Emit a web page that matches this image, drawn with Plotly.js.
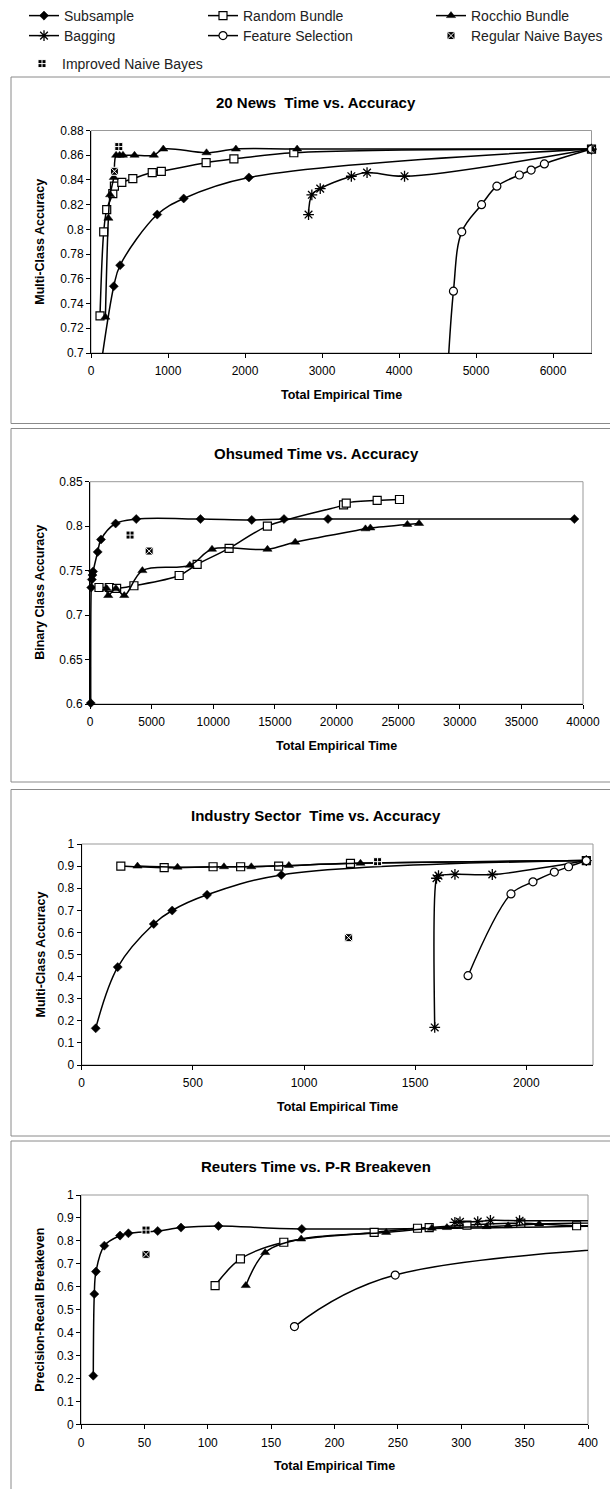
<!DOCTYPE html>
<html>
<head>
<meta charset="utf-8">
<script src="https://cdn.plot.ly/plotly-3.0.1.min.js"></script>
<style>
  html, body { margin: 0; padding: 0; background: #ffffff; }
  #chart { width: 610px; height: 1489px; }
</style>
</head>
<body>
<div id="chart"></div>
<script>
// ---------------- 20 News ----------------
const newsSubTime   = [95, 296, 378, 860, 1204, 2051, 6500];
const newsSubAcc    = [0.675, 0.754, 0.771, 0.812, 0.825, 0.842, 0.865];
const newsRandTime  = [117, 165, 204, 283, 304, 400, 543, 795, 913, 1495, 1856, 2634, 6500];
const newsRandAcc   = [0.730, 0.798, 0.816, 0.829, 0.835, 0.838, 0.841, 0.846, 0.847, 0.854, 0.857, 0.862, 0.865];
const newsRocTime   = [187, 226, 248, 296, 326, 372, 415, 565, 817, 939, 1500, 1882, 2677, 6500];
const newsRocAcc    = [0.729, 0.809, 0.828, 0.842, 0.860, 0.860, 0.860, 0.860, 0.860, 0.865, 0.862, 0.865, 0.865, 0.865];
const newsBagTime   = [2825, 2868, 2977, 3381, 3585, 4072, 6500];
const newsBagAcc    = [0.812, 0.828, 0.833, 0.843, 0.846, 0.843, 0.865];
const newsFeatTime  = [4610, 4707, 4815, 5072, 5271, 5563, 5716, 5888, 6500];
const newsFeatAcc   = [0.660, 0.750, 0.798, 0.820, 0.835, 0.844, 0.848, 0.853, 0.865];
const newsRegTime   = [304];
const newsRegAcc    = [0.847];
const newsImpTime   = [361];
const newsImpAcc    = [0.867];
const newsXTicks    = [0, 1000, 2000, 3000, 4000, 5000, 6000];
const newsYTicks    = [0.7, 0.72, 0.74, 0.76, 0.78, 0.8, 0.82, 0.84, 0.86, 0.88];
const newsYLabels   = ['0.7', '0.72', '0.74', '0.76', '0.78', '0.8', '0.82', '0.84', '0.86', '0.88'];

// ---------------- Ohsumed ----------------
const ohsSubTime    = [60, 100, 150, 200, 250, 623, 891, 2079, 3753, 8964, 13122, 15740, 19306, 39300];
const ohsSubAcc     = [0.601, 0.731, 0.740, 0.745, 0.749, 0.771, 0.785, 0.803, 0.808, 0.808, 0.807, 0.808, 0.808, 0.808];
const ohsRandTime   = [729, 1566, 2160, 3564, 7233, 8694, 11286, 14391, 20574, 20790, 23300, 25110];
const ohsRandAcc    = [0.731, 0.731, 0.730, 0.733, 0.7445, 0.757, 0.775, 0.800, 0.824, 0.826, 0.829, 0.830];
const ohsRocTime    = [1350, 1480, 2100, 2780, 4250, 8100, 9900, 14400, 16650, 22350, 22750, 25750, 26700];
const ohsRocAcc     = [0.730, 0.722, 0.730, 0.722, 0.750, 0.756, 0.774, 0.774, 0.782, 0.797, 0.798, 0.802, 0.803];
const ohsRegTime    = [4800];
const ohsRegAcc     = [0.772];
const ohsImpTime    = [3250];
const ohsImpAcc     = [0.790];
const ohsXTicks     = [0, 5000, 10000, 15000, 20000, 25000, 30000, 35000, 40000];
const ohsYTicks     = [0.6, 0.65, 0.7, 0.75, 0.8, 0.85];
const ohsYLabels    = ['0.6', '0.65', '0.7', '0.75', '0.8', '0.85'];

// ---------------- Industry Sector ----------------
const indSubTime    = [63, 162, 324, 407, 564, 898, 2270];
const indSubAcc     = [0.166, 0.443, 0.638, 0.699, 0.770, 0.860, 0.925];
const indRandTime   = [176, 371, 591, 715, 886, 1209, 2270];
const indRandAcc    = [0.900, 0.893, 0.897, 0.897, 0.900, 0.9125, 0.925];
const indRocTime    = [251, 431, 640, 763, 932, 1254, 2270];
const indRocAcc     = [0.900, 0.895, 0.897, 0.897, 0.903, 0.913, 0.925];
const indBagTime    = [1588, 1596, 1605, 1679, 1847, 2270];
const indBagAcc     = [0.170, 0.845, 0.857, 0.863, 0.862, 0.925];
const indFeatTime   = [1738, 1931, 2030, 2126, 2190, 2270];
const indFeatAcc    = [0.404, 0.774, 0.829, 0.873, 0.897, 0.925];
const indRegTime    = [1201];
const indRegAcc     = [0.576];
const indImpTime    = [1331];
const indImpAcc     = [0.920];
const indXTicks     = [0, 500, 1000, 1500, 2000];
const indYTicks     = [0, 0.1, 0.2, 0.3, 0.4, 0.5, 0.6, 0.7, 0.8, 0.9, 1];
const indYLabels    = ['0', '0.1', '0.2', '0.3', '0.4', '0.5', '0.6', '0.7', '0.8', '0.9', '1'];

// ---------------- Reuters ----------------
const reuSubTime    = [9.7, 10.5, 11.8, 18.4, 30.8, 37.4, 60.5, 78.9, 108.4, 174.2, 620];
const reuSubPR      = [0.212, 0.568, 0.666, 0.779, 0.823, 0.833, 0.843, 0.858, 0.865, 0.852, 0.885];
const reuRandTime   = [105.8, 125.8, 160, 231.3, 265.5, 274.7, 304.5, 347, 391, 620];
const reuRandPR     = [0.605, 0.721, 0.794, 0.837, 0.855, 0.858, 0.869, 0.877, 0.866, 0.885];
const reuRocTime    = [130, 145.3, 173.7, 240.8, 276.8, 288.7, 320, 337, 361.5, 620];
const reuRocPR      = [0.605, 0.749, 0.808, 0.837, 0.855, 0.858, 0.862, 0.866, 0.8735, 0.885];
const reuBagTime    = [295, 299, 313, 323, 346, 620];
const reuBagPR      = [0.881, 0.883, 0.884, 0.889, 0.888, 0.885];
const reuFeatTime   = [168.4, 247.9, 950];
const reuFeatPR     = [0.426, 0.651, 0.850];
const reuRegTime    = [51.3];
const reuRegPR      = [0.741];
const reuImpTime    = [51.3];
const reuImpPR      = [0.847];
const reuXTicks     = [0, 50, 100, 150, 200, 250, 300, 350, 400];
const reuYTicks     = [0, 0.1, 0.2, 0.3, 0.4, 0.5, 0.6, 0.7, 0.8, 0.9, 1];
const reuYLabels    = ['0', '0.1', '0.2', '0.3', '0.4', '0.5', '0.6', '0.7', '0.8', '0.9', '1'];

// ---------------- page geometry (pixels) ----------------
const W = 610, H = 1489;
const FONT = 'Liberation Sans, Arial, sans-serif';
const px = p => p / W;
const py = p => 1 - p / H;

// marker / line styles per method
const STYLE = {
  sub:  { name: 'Subsample',           mode: 'lines+markers', marker: { symbol: 'diamond',       size: 7, color: '#000', line: { color: '#000', width: 0.5 } } },
  rand: { name: 'Random Bundle',       mode: 'lines+markers', marker: { symbol: 'square',        size: 8, color: '#fff', line: { color: '#000', width: 1.2 } } },
  roc:  { name: 'Rocchio Bundle',      mode: 'lines+markers', marker: { symbol: 'triangle-up',   size: 8, color: '#000', line: { color: '#000', width: 0.5 } } },
  bag:  { name: 'Bagging',             mode: 'lines+markers', marker: { symbol: 'asterisk-open', size: 9, color: '#000', line: { color: '#000', width: 1.3 } } },
  feat: { name: 'Feature Selection',   mode: 'lines+markers', marker: { symbol: 'circle',        size: 8, color: '#fff', line: { color: '#000', width: 1.2 } } },
  reg:  { name: 'Regular Naive Bayes', mode: 'markers',       marker: { symbol: 'square-x',      size: 8, color: '#000', line: { color: '#fff', width: 1 } } },
  imp:  { name: 'Improved Naive Bayes',mode: 'markers',       marker: { symbol: 'square-cross',  size: 8, color: '#000', line: { color: '#fff', width: 1 } } }
};
const LEGEND_ID = { sub: 'legend', rand: 'legend2', roc: 'legend3', bag: 'legend4', feat: 'legend5', reg: 'legend6', imp: 'legend7' };

const traces = [];
function series(key, axisNum, xs, ys, clip, withLegend) {
  const s = STYLE[key];
  const suffix = axisNum === 1 ? '' : String(axisNum);
  traces.push({
    type: 'scatter',
    mode: s.mode,
    name: s.name,
    x: xs, y: ys,
    xaxis: 'x' + suffix, yaxis: 'y' + suffix,
    line: { color: '#000', width: 1.5, shape: 'spline', smoothing: 1 },
    marker: s.marker,
    cliponaxis: clip,
    showlegend: !!withLegend,
    legend: LEGEND_ID[key],
    hoverinfo: 'x+y+name'
  });
}

// 20 News
series('sub',  1, newsSubTime,  newsSubAcc,  true,  true);
series('rand', 1, newsRandTime, newsRandAcc, false, true);
series('roc',  1, newsRocTime,  newsRocAcc,  false, true);
series('bag',  1, newsBagTime,  newsBagAcc,  false, true);
series('feat', 1, newsFeatTime, newsFeatAcc, true,  true);
series('reg',  1, newsRegTime,  newsRegAcc,  false, true);
series('imp',  1, newsImpTime,  newsImpAcc,  false, true);
// Ohsumed
series('sub',  2, ohsSubTime,  ohsSubAcc,  false);
series('rand', 2, ohsRandTime, ohsRandAcc, false);
series('roc',  2, ohsRocTime,  ohsRocAcc,  false);
series('reg',  2, ohsRegTime,  ohsRegAcc,  false);
series('imp',  2, ohsImpTime,  ohsImpAcc,  false);
// Industry Sector
series('sub',  3, indSubTime,  indSubAcc,  false);
series('rand', 3, indRandTime, indRandAcc, false);
series('roc',  3, indRocTime,  indRocAcc,  false);
series('bag',  3, indBagTime,  indBagAcc,  false);
series('feat', 3, indFeatTime, indFeatAcc, false);
series('reg',  3, indRegTime,  indRegAcc,  false);
series('imp',  3, indImpTime,  indImpAcc,  false);
// Reuters
series('sub',  4, reuSubTime,  reuSubPR,  true);
series('rand', 4, reuRandTime, reuRandPR, true);
series('roc',  4, reuRocTime,  reuRocPR,  true);
series('bag',  4, reuBagTime,  reuBagPR,  true);
series('feat', 4, reuFeatTime, reuFeatPR, true);
series('reg',  4, reuRegTime,  reuRegPR,  true);
series('imp',  4, reuImpTime,  reuImpPR,  true);

// panel geometry: plot area and outer frame, in pixels
const panels = [
  { title: '20 News  Time vs. Accuracy',          ytitle: 'Multi-Class Accuracy',       plot: { l: 91,   r: 591.5, t: 130.5, b: 353 },    frame: { t: 77,    b: 423.5 }, titleY: 102,
    xrange: [0, 6500],  yrange: [0.7, 0.88], xt: newsXTicks, yt: newsYTicks, yl: newsYLabels },
  { title: 'Ohsumed Time vs. Accuracy',           ytitle: 'Binary Class Accuracy',      plot: { l: 90,   r: 583,   t: 481.7, b: 704 },    frame: { t: 428.5, b: 782 },   titleY: 453.5,
    xrange: [0, 40000], yrange: [0.6, 0.85], xt: ohsXTicks,  yt: ohsYTicks,  yl: ohsYLabels },
  { title: 'Industry Sector  Time vs. Accuracy',  ytitle: 'Multi-Class Accuracy',       plot: { l: 81.7, r: 593,   t: 844,   b: 1065 },   frame: { t: 789.5, b: 1136 },  titleY: 815,
    xrange: [0, 2300],  yrange: [0, 1],      xt: indXTicks,  yt: indYTicks,  yl: indYLabels },
  { title: 'Reuters Time vs. P-R Breakeven',      ytitle: 'Precision-Recall Breakeven', plot: { l: 81,   r: 588,   t: 1195,  b: 1424.3 }, frame: { t: 1141,  b: 1495 },  titleY: 1166,
    xrange: [0, 400],   yrange: [0, 1],      xt: reuXTicks,  yt: reuYTicks,  yl: reuYLabels }
];

const layout = {
  width: W, height: H,
  margin: { l: 0, r: 0, t: 0, b: 0 },
  paper_bgcolor: '#fff', plot_bgcolor: '#fff',
  font: { family: FONT, size: 12, color: '#000' },
  showlegend: true,
  shapes: [], annotations: []
};

panels.forEach((p, i) => {
  const n = i + 1, sfx = n === 1 ? '' : String(n);
  layout['xaxis' + sfx] = {
    domain: [px(p.plot.l), px(p.plot.r)], anchor: 'y' + sfx,
    range: p.xrange, tickvals: p.xt, ticktext: p.xt.map(String),
    showline: true, linecolor: '#000', linewidth: 1, mirror: false,
    ticks: 'outside', ticklen: 4, tickcolor: '#000', ticklabelstandoff: 3,
    showgrid: false, zeroline: false, fixedrange: true,
    tickfont: { family: FONT, size: 12, color: '#000' }
  };
  layout['yaxis' + sfx] = {
    domain: [py(p.plot.b), py(p.plot.t)], anchor: 'x' + sfx,
    range: p.yrange, tickvals: p.yt, ticktext: p.yl,
    showline: true, linecolor: '#000', linewidth: 1, mirror: false,
    ticks: 'outside', ticklen: 4, tickcolor: '#000',
    showgrid: false, zeroline: false, fixedrange: true,
    tickfont: { family: FONT, size: 12, color: '#000' }
  };
  // plot-area border
  layout.shapes.push({ type: 'rect', layer: 'below', xref: 'x' + sfx + ' domain', yref: 'y' + sfx + ' domain',
    x0: 0, x1: 1, y0: 0, y1: 1, line: { color: '#999', width: 1 } });
  // chart frame
  layout.shapes.push({ type: 'rect', layer: 'below', xref: 'paper', yref: 'paper',
    x0: px(11), x1: px(620), y0: py(p.frame.b), y1: py(p.frame.t), line: { color: '#8a8a8a', width: 1 } });
  // chart title
  layout.annotations.push({ xref: 'paper', yref: 'paper', x: px(316), y: py(p.titleY), xanchor: 'center', yanchor: 'middle',
    text: p.title, showarrow: false, font: { family: FONT, size: 15, weight: 'bold', color: '#000' } });
  // x-axis title
  layout.annotations.push({ xref: 'paper', yref: 'paper', x: px((p.plot.l + p.plot.r) / 2), y: py(p.plot.b + 42), xanchor: 'center', yanchor: 'middle',
    text: 'Total Empirical Time', showarrow: false, font: { family: FONT, size: 12.5, weight: 'bold', color: '#000' } });
  // y-axis title
  layout.annotations.push({ xref: 'paper', yref: 'paper', x: px(40), y: py((p.plot.t + p.plot.b) / 2), xanchor: 'center', yanchor: 'middle',
    text: p.ytitle, textangle: -90, showarrow: false, font: { family: FONT, size: 12.5, weight: 'bold', color: '#000' } });
});

// legend entries laid out in a grid above the charts
const legendSpots = {
  legend:  [24, 16],  legend2: [203, 16], legend3: [431, 16],
  legend4: [24, 36],  legend5: [203, 36], legend6: [431, 36],
  legend7: [22, 64]
};
Object.keys(legendSpots).forEach(id => {
  const [lx, ly] = legendSpots[id];
  layout[id] = {
    x: px(lx), y: py(ly), xanchor: 'left', yanchor: 'middle',
    orientation: 'v', bgcolor: 'rgba(0,0,0,0)', borderwidth: 0,
    font: { family: FONT, size: 14, color: '#222' }, itemclick: false, itemdoubleclick: false
  };
});

Plotly.newPlot('chart', traces, layout, { staticPlot: true, displayModeBar: false });
</script>
</body>
</html>
